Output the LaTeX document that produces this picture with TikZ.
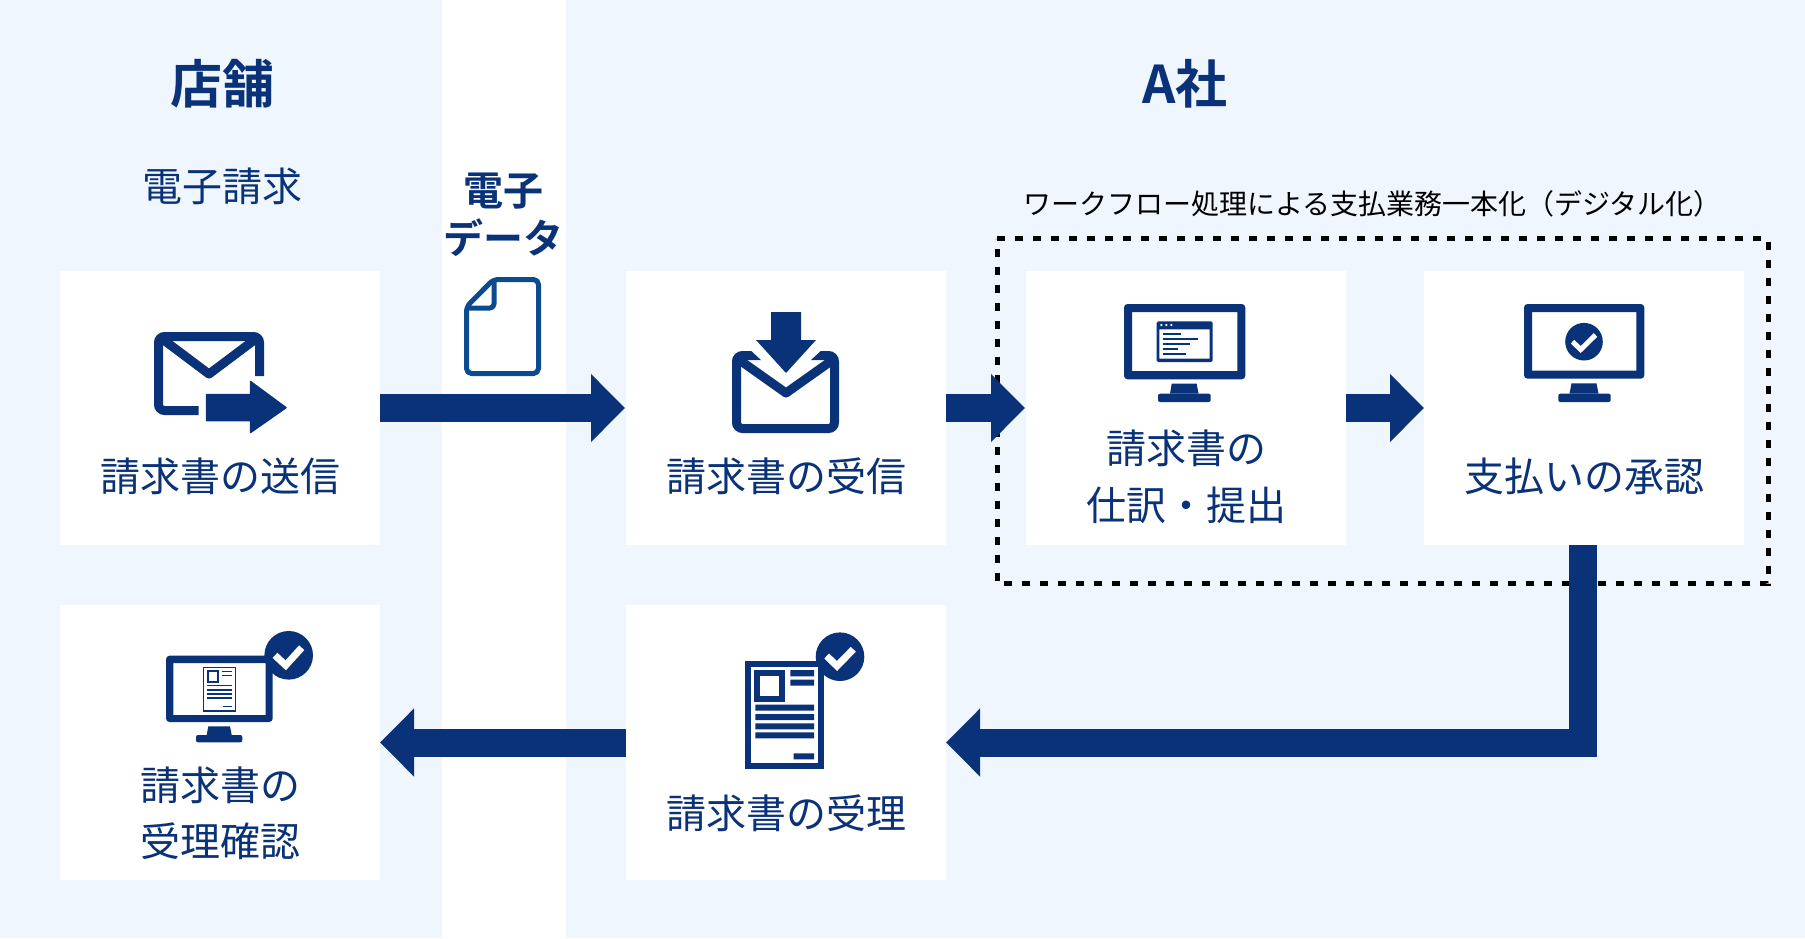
\documentclass[tikz,border=0pt]{standalone}
\usepackage{fontspec}
\setmainfont{Noto Sans CJK JP}
\newfontfamily\jpbold{Noto Sans CJK JP Bold}
\usetikzlibrary{arrows.meta}
\definecolor{navy}{HTML}{0A3278}
\definecolor{filecol}{HTML}{0A4B8F}
\definecolor{bgblue}{HTML}{EFF6FD}
\tikzset{
  card/.style={fill=white,minimum width=320pt,minimum height=274pt,inner sep=0pt,outer sep=0pt},
  dashbox/.style={minimum width=771pt,minimum height=345pt,inner sep=0pt,outer sep=0pt},
  dashline/.style={draw=black,line width=5pt,dash pattern=on 8pt off 10pt},
  flowarrow/.style={draw=navy,line width=28pt,-{Triangle[length=34pt,width=66pt]},miter limit=10,line join=miter},
  lbl/.style={text=navy,inner sep=0pt,font=\fontsize{40}{56}\selectfont,align=center},
  toplbl/.style={text=navy,inner sep=0pt,font=\fontsize{52}{60}\selectfont\jpbold,align=center},
  boldlbl/.style={text=navy,inner sep=0pt,font=\fontsize{40}{48}\selectfont\jpbold,align=center},
  caplbl/.style={text=black,inner sep=0pt,font=\fontsize{28}{34}\selectfont},
  ink/.style={fill=navy,draw=none}
}
\begin{document}
\begin{tikzpicture}[x=1pt,y=-1pt]
\useasboundingbox (0,0) rectangle (1805,938);
\fill[bgblue] (0,0) rectangle (1805,938);
\fill[white] (442,0) rectangle (566,938);

\node[card] (c1) at (220,408) {};
\node[card] (c2) at (786,408) {};
\node[card] (c3) at (1186,408) {};
\node[card] (c4) at (1584,408) {};
\node[card,minimum height=275pt] (r1) at (220,742.5) {};
\node[card,minimum height=275pt] (r2) at (786,742.5) {};
\node[dashbox] (wf) at (1382.5,411.2) {};
\draw[dashline] (wf.north west) -- (wf.north east) -- (wf.south east) -- (wf.south west) -- cycle;

% arrows
\draw[flowarrow,shorten >=1pt] (c1.east) -- (c2.west);
\draw[flowarrow,shorten >=1pt] (c2.east) -- (c3.west);
\draw[flowarrow] (c3.east) -- (c4.west);
\draw[flowarrow] ([xshift=-1pt]c4.south) |- (r2.east);
\draw[flowarrow] (r2.west) -- (r1.east);

% headings
\node[toplbl] (t1) at (222,84) {店舗};
\node[toplbl] (t2) at (1185,84) {A社};
\node[lbl] (t3) at (222,186.5) {電子請求};
\node[boldlbl] (t4) at (503,191) {電子};
\node[boldlbl] (t5) at (503,238) {データ};
\node[caplbl] (t6) at (1372.5,204) {ワークフロー処理による支払業務一本化（デジタル化）};

% card labels
\node[lbl] (l1) at (220,476.5) {請求書の送信};
\node[lbl] (l2) at (786,476.5) {請求書の受信};
\node[lbl] (l3a) at (1186,448.2) {請求書の};
\node[lbl] (l3b) at (1186,505) {仕訳・提出};
\node[lbl] (l4) at (1584,476.5) {支払いの承認};
\node[lbl] (l5a) at (220,785) {請求書の};
\node[lbl] (l5b) at (220,841) {受理確認};
\node[lbl] (l6) at (786,813) {請求書の受理};

% file icon
\draw[filecol,line width=5pt,line join=round,rounded corners=5pt] (515,279.5) -- (538.5,279.5) -- (538.5,373.5) -- (466.5,373.5) -- (466.5,306.7) -- (493.4,279.5) -- cycle;
\draw[filecol,line width=5pt,line cap=round,line join=round,rounded corners=4pt] (494,281) -- (494,308) -- (468,308);

% send envelope
\draw[navy,line width=9pt,rounded corners=6pt] (198.5,410.5) -- (158.5,410.5) -- (158.5,336.5) -- (259.5,336.5) -- (259.5,376);
\draw[navy,line width=9pt,line join=round] (161,338) -- (209,374) -- (257,338);
\fill[navy,line join=round,draw=navy,line width=1.5pt] (206.7,394.5) -- (250.5,394.5) -- (250.5,381.5) -- (286,407.7) -- (250.5,432.5) -- (250.5,420.5) -- (206.7,420.5) -- cycle;

% receive envelope
\draw[navy,fill=white,line width=9pt,rounded corners=6pt] (736.5,355.5) rectangle (834.5,428.5);
\draw[navy,line width=9pt,line join=round] (738,359) -- (786,393) -- (834,359);
\fill[white] (745,345) -- (786,383) -- (827,345) -- cycle;
\fill[navy] (771,312) -- (801,312) -- (801,340) -- (816,340) -- (786,373) -- (756,340) -- (771,340) -- cycle;

% monitor 1
\path[ink,even odd rule] [rounded corners=3.5pt] (1124,304) rectangle (1245.3,379.3) [sharp corners] (1132,312) rectangle (1237.3,371);
\fill[navy] (1171.7,383.7) -- (1196.7,383.7) -- (1198.5,393.7) -- (1170,393.7) -- cycle;
\fill[navy,rounded corners=2pt] (1158,393.7) rectangle (1210.7,402);
\path[ink,even odd rule] [rounded corners=1.5pt] (1156.7,321.3) rectangle (1212.7,362) [sharp corners] (1159.3,329.3) rectangle (1209.7,358.7);
\fill[white] (1161.3,325) circle (1.2) (1166.3,325) circle (1.2) (1171.3,325) circle (1.2);
\draw[navy,line width=1.8pt] (1163,334) -- (1180.7,334) (1163,339.3) -- (1198,339.3) (1163,344.3) -- (1190,344.3) (1163,349.3) -- (1178,349.3) (1163,354) -- (1186,354);

% monitor 2
\path[ink,even odd rule] [rounded corners=3.5pt] (1524,304) rectangle (1644.3,378.7) [sharp corners] (1532,312) rectangle (1636.3,370.7);
\fill[navy] (1571.5,383.3) -- (1596.5,383.3) -- (1598.5,393.7) -- (1569.5,393.7) -- cycle;
\fill[navy,rounded corners=2pt] (1558.3,393.7) rectangle (1610.7,402);
\fill[navy] (1584,341.7) circle (18.8);
\draw[white,line width=5pt,miter limit=10] (1572.5,341.7) -- (1580.7,349.5) -- (1595.5,335);

\begin{scope}[yshift=-1pt]
% monitor 3
\path[ink,even odd rule] [rounded corners=3.5pt] (166,654.7) rectangle (272.7,721) [sharp corners] (173.3,662) rectangle (265.7,714);
\fill[navy] (208.3,725.3) -- (230,725.3) -- (231.7,734) -- (206.7,734) -- cycle;
\fill[navy,rounded corners=2pt] (196,734) rectangle (242.3,741.3);
\draw[navy,line width=1.5pt] (203.7,666.5) rectangle (235.5,710);
\draw[navy,line width=2pt] (207.7,670.3) rectangle (218.3,681);
\draw[navy,line width=1.5pt] (222,670.7) -- (231.7,670.7) (222,674.3) -- (231.7,674.3) (207.3,684.7) -- (231.7,684.7) (207.3,689) -- (231.7,689) (207.3,693) -- (231.7,693) (207.3,697) -- (231.7,697) (222.7,705.3) -- (231.7,705.3);
\fill[navy] (288.7,654.3) circle (24.3);
\draw[white,line width=7pt,miter limit=10] (275,654.3) -- (285.7,664.3) -- (301.7,646.7);

% large document
\draw[navy,line width=6pt] (748,663) rectangle (821.3,764.7);
\draw[navy,line width=6pt] (756.7,672) rectangle (782.3,697.7);
\fill[navy] (790.3,669) rectangle (814,675.3) (790.3,678.7) rectangle (814,684.7)
  (755.3,703.7) rectangle (814,709.7) (755.3,713) rectangle (814,719)
  (755.3,722.3) rectangle (814,728.3) (755.3,731.3) rectangle (814,737.3)
  (793.7,752.3) rectangle (814,758.3);
\fill[navy] (840,655.7) circle (24.3);
\draw[white,line width=7pt,miter limit=10] (826.7,655) -- (837,665) -- (853.3,648.3);
\end{scope}
\end{tikzpicture}
\end{document}
